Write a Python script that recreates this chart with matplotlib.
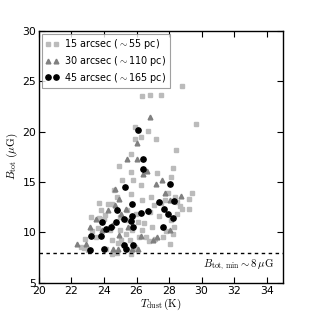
import matplotlib
matplotlib.use("Agg")
import matplotlib.pyplot as plt

# 15 arcsec (~55 pc)
t15 = [28.82, 26.34, 26.83, 27.53, 29.64, 25.91, 26.73, 25.89, 26.30, 27.22, 28.45, 25.65,
       24.95, 28.23, 25.63, 28.15, 25.77, 26.28, 24.60, 25.10, 29.39, 29.21, 29.23, 27.26,
       23.68, 24.26, 24.50, 23.83, 24.07, 23.21, 23.70, 24.97, 25.40, 25.44, 25.98, 26.85,
       27.06, 27.49, 27.94, 28.35, 28.51, 28.66, 28.82, 28.47, 28.15, 28.33, 27.84, 27.61,
       28.04, 27.14, 26.77, 26.61, 26.16, 25.71, 26.34, 26.96, 26.45, 26.10, 25.01, 25.38,
       24.89, 25.03, 25.61, 25.89, 24.50, 24.77, 24.11, 23.48, 22.84, 22.58, 22.78, 23.29,
       23.64, 22.99, 25.79, 25.65, 24.48, 23.97, 24.36, 28.25, 24.77, 25.63, 26.92, 26.32,
       27.39, 27.73]
b15 = [24.54, 23.52, 23.65, 23.65, 20.71, 20.48, 20.11, 19.22, 19.45, 19.22, 18.16, 17.80,
       16.64, 16.41, 15.98, 15.48, 15.19, 14.69, 14.26, 15.19, 13.93, 13.33, 12.31, 15.85,
       12.94, 12.87, 12.80, 12.18, 11.71, 11.51, 11.45, 11.55, 12.21, 11.22, 11.88, 12.04,
       12.71, 12.94, 13.93, 13.53, 13.04, 12.61, 12.37, 11.88, 11.22, 10.56, 10.16, 9.56,
       8.90, 9.40, 9.17, 9.56, 9.56, 10.22, 10.29, 10.56, 10.99, 11.05, 10.29, 9.89,
       8.97, 9.30, 9.23, 8.57, 7.84, 7.98, 8.41, 9.56, 9.40, 8.57, 8.44, 10.13,
       10.49, 8.31, 8.41, 7.91, 9.23, 11.35, 10.22, 9.89, 13.53, 13.86, 13.53, 13.20,
       11.61, 13.20]

# 30 arcsec (~110 pc)
t30 = [26.83, 26.04, 26.00, 25.44, 26.65, 26.39, 24.65, 27.55, 24.95, 27.22, 27.76, 28.72,
       28.04, 24.26, 25.05, 23.50, 23.13, 23.87, 24.48, 24.91, 27.03, 27.25, 28.08, 26.28,
       22.37, 22.89, 24.58, 24.89, 26.06, 25.73, 25.50, 25.38, 24.67]
b30 = [21.50, 18.89, 17.27, 17.27, 16.14, 15.78, 14.33, 15.19, 13.30, 14.82, 13.93, 13.60,
       13.20, 12.21, 11.88, 11.38, 10.59, 10.22, 10.79, 9.73, 9.27, 9.56, 10.22, 9.70,
       8.90, 8.90, 8.41, 8.41, 8.41, 8.41, 10.56, 12.28, 12.77]

# 45 arcsec (~165 pc)
t45 = [26.10, 26.42, 26.40, 25.30, 28.08, 28.29, 27.37, 24.81, 25.73, 27.69, 26.73, 26.30,
       27.94, 25.71, 25.22, 25.63, 28.25, 23.87, 24.73, 24.44, 24.15, 25.81, 27.65, 23.21,
       23.80, 24.03, 23.13, 25.26, 25.79, 25.34]
b45 = [20.18, 17.24, 16.34, 14.49, 14.82, 13.17, 13.07, 12.24, 12.84, 12.34, 12.11, 11.94,
       11.84, 11.68, 11.38, 11.15, 11.42, 11.02, 11.08, 10.59, 10.36, 10.56, 10.52, 9.66,
       9.66, 8.41, 8.24, 8.74, 8.74, 8.37]

b_min = 8

plt.rcParams["mathtext.fontset"] = "cm"
plt.rcParams["font.family"] = "DejaVu Sans"

fig = plt.figure(figsize=(3.14, 3.14), dpi=100, facecolor="white")
ax = fig.add_axes([0.124, 0.099, 0.777, 0.803])

ax.plot(t15, b15, "s", color="#bbbbbb", mec="#bbbbbb", ms=3.5, ls="none",
        label=r"15 arcsec ($\sim$55 pc)")
ax.plot(t30, b30, "^", color="#808080", mec="#808080", ms=3.4, ls="none",
        label=r"30 arcsec ($\sim$110 pc)")
ax.plot(t45, b45, "o", color="black", mec="black", ms=3.8, ls="none",
        label=r"45 arcsec ($\sim$165 pc)")

ax.axhline(b_min, color="black", ls="--", lw=1.0, dashes=(2.5, 2.5))
ax.text(34.5, 6.75, r"$B_{\rm tot,\,min}\sim 8\,\mu{\rm G}$", ha="right", va="center",
        fontsize=7.8)

ax.set_xlim(20, 35)
ax.set_ylim(5, 30)
ax.set_xticks(range(20, 36, 2))
ax.set_yticks(range(5, 31, 5))
ax.tick_params(direction="in", top=True, right=True, labelsize=7.8, length=4, width=0.8, pad=2)
for s in ax.spines.values():
    s.set_linewidth(1.0)

ax.set_xlabel(r"$T_{\rm dust}\,({\rm K})$", fontsize=8, labelpad=1)
ax.set_ylabel(r"$B_{\rm tot}\ (\mu{\rm G})$", fontsize=8, labelpad=2)

leg = ax.legend(loc="upper left", numpoints=2, fontsize=6.9, frameon=True, fancybox=False,
                handlelength=1.4, handletextpad=0.6, borderpad=0.35, labelspacing=0.3,
                borderaxespad=0.3)
leg.get_frame().set_edgecolor("#888888")
leg.get_frame().set_linewidth(0.8)

fig.savefig("out.png", dpi=100, facecolor="white")
